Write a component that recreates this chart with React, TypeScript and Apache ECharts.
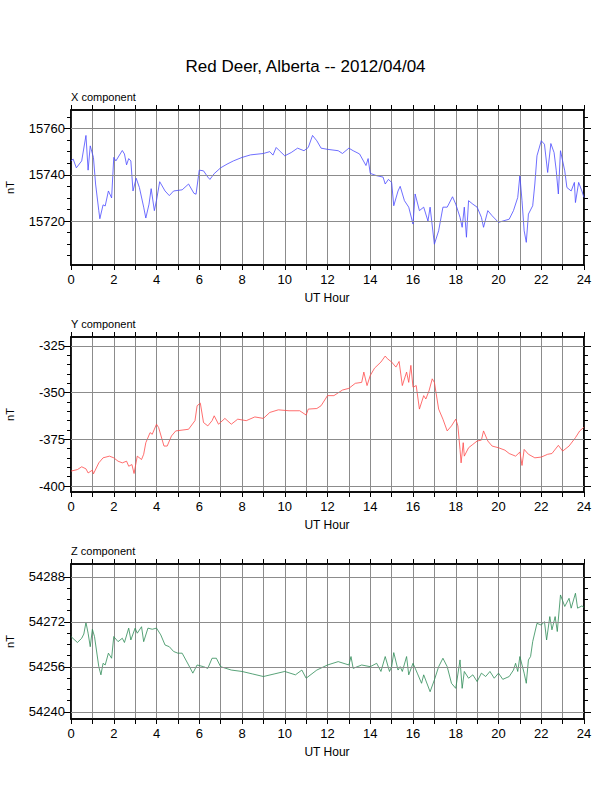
import React, { useEffect, useRef } from "react";
import * as echarts from "echarts";

const title = "Red Deer, Alberta -- 2012/04/04";
const panelNames = ["X component", "Y component", "Z component"];

const xComp: number[][] = [
[0,15746],[0.1,15746.8],[0.25,15743],[0.5,15746],[0.7,15757],[0.8,15742],[0.9,15752.5],[1.05,15747.5],[1.15,15736],[1.3,15724.5],[1.35,15721],[1.5,15727],[1.6,15726.5],[1.75,15733],[1.9,15730],[2.0,15747.5],[2.1,15746],[2.3,15749],[2.4,15750.5],[2.5,15749],[2.6,15744.3],[2.7,15747],[2.8,15746],[2.9,15733],[3.05,15738.5],[3.2,15734.5],[3.4,15726],[3.5,15721.3],[3.65,15727.3],[3.75,15734],[3.9,15724.5],[4.0,15729],[4.15,15737],[4.4,15733],[4.6,15731],[4.8,15733],[5.2,15733.5],[5.5,15736],[5.75,15732],[5.85,15731.6],[6.0,15742],[6.2,15741.7],[6.4,15739],[6.5,15738],[6.7,15740.5],[7.0,15743],[7.3,15744.6],[7.6,15746],[8.0,15747.5],[8.4,15748.6],[9.0,15749.2],[9.3,15750],[9.45,15748.5],[9.6,15751.8],[9.75,15750.4],[10.0,15748.2],[10.3,15749.6],[10.6,15751.5],[10.9,15750.4],[11.1,15751.8],[11.3,15757],[11.5,15754.7],[11.7,15751.5],[12.0,15751],[12.5,15750.4],[12.7,15749.2],[13.0,15751.5],[13.2,15750.4],[13.5,15749],[13.8,15744],[13.9,15747],[14.0,15740.6],[14.3,15739.6],[14.6,15739],[14.7,15736],[14.85,15738],[15.0,15736.7],[15.1,15726.6],[15.3,15733],[15.4,15735],[15.6,15728.8],[15.8,15726],[16.0,15718.7],[16.1,15731.7],[16.3,15724.5],[16.5,15726],[16.7,15720],[16.8,15726],[17.0,15710],[17.2,15715.8],[17.4,15726],[17.6,15726],[17.85,15730.5],[18.0,15727.3],[18.2,15721.6],[18.3,15717.3],[18.4,15726],[18.5,15713],[18.6,15728.8],[18.8,15727.3],[19.0,15726],[19.2,15721.6],[19.3,15717.3],[19.5,15724.5],[19.7,15722.3],[20.0,15719.4],[20.2,15720],[20.5,15720.8],[20.7,15724.5],[20.9,15730.2],[21.0,15739.6],[21.1,15728.8],[21.2,15715.8],[21.3,15710.8],[21.4,15723],[21.6,15726.6],[21.7,15736],[21.8,15748.2],[22.0,15754.7],[22.15,15753.2],[22.3,15741],[22.45,15753.5],[22.6,15749.6],[22.7,15742],[22.8,15731.7],[22.9,15750.4],[23.0,15746],[23.1,15741.7],[23.2,15734.5],[23.4,15733],[23.55,15736.7],[23.6,15728],[23.75,15736.7],[23.9,15733],[24.0,15730.2]
];

const yComp: number[][] = [
[0,-392],[0.3,-391.2],[0.5,-389.7],[0.7,-390.8],[0.8,-393],[1.0,-391.5],[1.05,-393.5],[1.3,-387.6],[1.5,-384.9],[1.8,-384],[2.0,-384.9],[2.2,-386.7],[2.4,-387.6],[2.6,-386.7],[2.7,-389.4],[2.85,-388.5],[2.95,-393.3],[3.1,-384],[3.3,-385.8],[3.4,-383],[3.5,-376.8],[3.7,-371.4],[3.8,-372.3],[4.0,-366.9],[4.1,-368.7],[4.35,-378.6],[4.5,-378.6],[4.7,-373.2],[4.9,-370.5],[5.5,-369.6],[5.8,-365],[5.9,-357],[6.0,-356.1],[6.05,-355.6],[6.2,-366],[6.4,-367.8],[6.6,-365],[6.7,-362.4],[6.9,-366.9],[7.2,-363.8],[7.5,-366.9],[7.8,-364.2],[8.2,-365],[8.6,-363],[9.0,-363.8],[9.3,-360.6],[9.7,-359.2],[10.2,-359.7],[10.7,-359.7],[11.0,-362],[11.1,-358.8],[11.5,-358.5],[11.7,-357],[12.0,-351.6],[12.3,-351.6],[12.7,-348.6],[13.0,-347.7],[13.3,-345],[13.6,-344.5],[13.7,-339],[13.85,-346.2],[14.0,-340.8],[14.2,-336.9],[14.5,-333.6],[14.7,-330.4],[14.8,-331.8],[15.0,-333.6],[15.2,-336.3],[15.35,-333.3],[15.5,-346.2],[15.7,-339],[15.8,-344.5],[15.9,-335.4],[16.0,-347.1],[16.15,-346.2],[16.3,-358.8],[16.5,-351.6],[16.6,-353.4],[16.75,-349],[16.9,-342.6],[17.0,-344.5],[17.2,-358.8],[17.4,-364.2],[17.6,-370.5],[17.8,-367.8],[18.0,-364.2],[18.1,-367.8],[18.2,-380.4],[18.25,-387.6],[18.35,-376.8],[18.4,-384],[18.6,-379.5],[18.8,-377.7],[19.0,-375.9],[19.2,-375.4],[19.3,-370.5],[19.5,-375.9],[19.7,-378.6],[20.0,-379.5],[20.3,-380.8],[20.5,-382.6],[20.8,-384],[21.0,-381.8],[21.1,-389],[21.2,-380.4],[21.4,-383],[21.7,-384.9],[22.0,-384.5],[22.3,-383],[22.5,-382.6],[22.8,-378.2],[23.0,-381.3],[23.3,-378.6],[23.6,-374.1],[23.8,-370.5],[24.0,-368.5]
];

const zComp: number[][] = [
[0,54266.8],[0.3,54264.7],[0.5,54266.2],[0.6,54267.7],[0.7,54271.8],[0.8,54268],[0.9,54263.2],[1.0,54269.4],[1.1,54266.8],[1.3,54256.1],[1.4,54253.2],[1.5,54257.3],[1.6,54256.7],[1.75,54260.9],[1.9,54259.1],[2.0,54266.8],[2.2,54265],[2.4,54266.2],[2.5,54264.7],[2.7,54269.8],[2.8,54265.6],[3.0,54269.8],[3.1,54268],[3.3,54270.3],[3.4,54265],[3.6,54269.8],[3.8,54269.4],[4.0,54269.8],[4.2,54267.4],[4.4,54263.8],[4.6,54263.2],[4.8,54261.5],[5.0,54260.9],[5.2,54260.9],[5.5,54256.7],[5.7,54253.8],[5.9,54256.7],[6.2,54256.1],[6.4,54255.5],[6.6,54259.1],[6.8,54259.1],[7.0,54256.1],[7.5,54254.9],[8.0,54254.4],[8.5,54253.5],[9.0,54252.6],[9.5,54253.5],[10.0,54254.4],[10.5,54253.2],[10.8,54254.9],[11.0,54252],[11.5,54254.9],[12.0,54256.7],[12.5,54257.9],[13.0,54256.7],[13.1,54259.7],[13.2,54255.5],[13.6,54256.7],[14.0,54256.1],[14.3,54257.3],[14.5,54254.4],[14.7,54259.7],[14.9,54254.4],[15.0,54256.1],[15.1,54261.1],[15.3,54254.9],[15.4,54256.1],[15.5,54254.4],[15.7,54259.7],[15.8,54253.2],[16.0,54257.3],[16.2,54253.8],[16.4,54250.2],[16.5,54253.2],[16.8,54247.2],[17.0,54251.4],[17.2,54256.1],[17.4,54259.1],[17.6,54256.1],[17.8,54250.2],[18.0,54248.4],[18.2,54258.5],[18.3,54248.4],[18.4,54254.4],[18.6,54252],[18.8,54253.2],[19.0,54250.8],[19.2,54253.8],[19.4,54252.6],[19.6,54254.4],[19.8,54252],[20.0,54253.8],[20.2,54251.6],[20.5,54252.6],[20.7,54254.9],[20.8,54257.3],[20.9,54254.4],[21.0,54259.7],[21.2,54253.8],[21.3,54250.2],[21.4,54258.5],[21.5,54259.7],[21.6,54265],[21.8,54271.5],[22.0,54270.9],[22.15,54272.1],[22.25,54265.6],[22.4,54273.9],[22.5,54269.2],[22.65,54273.9],[22.75,54268.6],[22.9,54281.6],[23.1,54277.5],[23.3,54280.4],[23.4,54276.9],[23.6,54282.2],[23.7,54276.9],[23.9,54277.7],[24.0,54277.2]
];

const xTicks = [15720, 15740, 15760];
const xMinor = [15705,15710,15715,15725,15730,15735,15745,15750,15755,15765];
const yTicks = [-400, -375, -350, -325];
const yMinor = [-395,-390,-385,-380,-370,-365,-360,-355,-345,-340,-335,-330,-320];
const zTicks = [54240, 54256, 54272, 54288];
const zMinor = [54244,54248,54252,54260,54264,54268,54276,54280,54284];

const panels = [
  { data: xComp, color: "#4a4aff", min: 15701, max: 15768, ticks: xTicks, minor: xMinor },
  { data: yComp, color: "#ff4a4a", min: -403.2, max: -320.2, ticks: yTicks, minor: yMinor },
  { data: zComp, color: "#2e8b57", min: 54237.5, max: 54292.6, ticks: zTicks, minor: zMinor },
];

const tops = [110, 337, 564];
const H = 155;
const LEFT = 71;
const W = 513;
const FONT = "Liberation Sans";

export default function App() {
  const ref = useRef<HTMLDivElement>(null);
  useEffect(() => {
    const chart = echarts.init(ref.current!, undefined, { renderer: "svg" });
    const grid: any[] = [], xAxis: any[] = [], yAxis: any[] = [], series: any[] = [], graphic: any[] = [];
    graphic.push({ type: "text", left: "center", top: 58, style: { text: title, font: `17px '${FONT}'`, fill: "#000" } });
    panels.forEach((p, i) => {
      grid.push({ left: LEFT, top: tops[i], width: W, height: H, show: true, borderColor: "#000", borderWidth: 1.5, backgroundColor: "transparent" });
      const xi = xAxis.length;
      xAxis.push({
        type: "value", gridIndex: i, min: 0, max: 24, interval: 1, position: "bottom",
        axisLine: { show: true, lineStyle: { color: "#000", width: 1.5 } },
        axisTick: { show: true, length: 5, lineStyle: { color: "#000" } },
        axisLabel: { fontFamily: FONT, fontSize: 13, color: "#000", margin: 8, formatter: (v: number) => (v % 2 === 0 ? String(v) : "") },
        splitLine: { show: true, lineStyle: { color: "#8c8c8c", width: 1 } },
      });
      xAxis.push({
        type: "value", gridIndex: i, min: 0, max: 24, interval: 1, position: "top",
        axisLine: { show: true, lineStyle: { color: "#000", width: 1.5 } },
        axisTick: { show: true, length: 5, lineStyle: { color: "#000" } },
        axisLabel: { show: false }, splitLine: { show: false },
      });
      const yi = yAxis.length;
      const base = { type: "value", gridIndex: i, min: p.min, max: p.max, splitLine: { show: false } };
      yAxis.push({
        ...base, position: "left",
        axisLine: { show: true, lineStyle: { color: "#000", width: 1.5 } },
        axisTick: { show: true, length: 7, customValues: p.ticks, lineStyle: { color: "#000" } },
        axisLabel: { fontFamily: FONT, fontSize: 13, color: "#000", margin: 6, customValues: p.ticks, formatter: (v: number) => String(v) },
      });
      yAxis.push({
        ...base, position: "left",
        axisLine: { show: false },
        axisTick: { show: true, length: 4, customValues: p.minor, lineStyle: { color: "#000" } },
        axisLabel: { show: false, customValues: p.minor },
      });
      yAxis.push({
        ...base, position: "right",
        axisLine: { show: true, lineStyle: { color: "#000", width: 1.5 } },
        axisTick: { show: true, length: 7, customValues: p.ticks, lineStyle: { color: "#000" } },
        axisLabel: { show: false, customValues: p.ticks },
      });
      yAxis.push({
        ...base, position: "right",
        axisLine: { show: false },
        axisTick: { show: true, length: 4, customValues: p.minor, lineStyle: { color: "#000" } },
        axisLabel: { show: false, customValues: p.minor },
      });
      series.push({
        type: "line", xAxisIndex: xi, yAxisIndex: yi, data: p.data, showSymbol: false,
        lineStyle: { color: p.color, width: 0.8 }, silent: true,
        markLine: {
          silent: true, symbol: "none", label: { show: false },
          lineStyle: { color: "#8c8c8c", width: 1, type: "solid" },
          data: p.ticks.map((v) => ({ yAxis: v })),
        },
        z: 3,
      });
      graphic.push({ type: "text", left: LEFT, top: tops[i] - 19, style: { text: panelNames[i], font: `11px '${FONT}'`, fill: "#000" } });
      graphic.push({ type: "text", x: 327, y: tops[i] + H + 27, style: { text: "UT Hour", font: `12px '${FONT}'`, fill: "#000", align: "center" } });
      graphic.push({ type: "text", x: 10, y: tops[i] + H / 2, rotation: Math.PI / 2, style: { text: "nT", font: `11px '${FONT}'`, fill: "#000", align: "center", verticalAlign: "middle" } });
    });
    chart.setOption({ animation: false, backgroundColor: "#fff", grid, xAxis, yAxis, series, graphic });
    return () => chart.dispose();
  }, []);
  return <div ref={ref} style={{ position: "absolute", left: 0, top: 0, width: 612, height: 792 }} />;
}
